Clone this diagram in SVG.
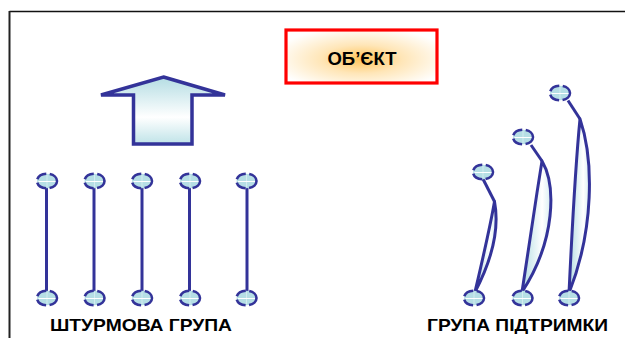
<svg xmlns="http://www.w3.org/2000/svg" width="625" height="338" viewBox="0 0 625 338">
<defs>
<radialGradient id="boxg" cx="0.5" cy="0.55" r="0.6">
<stop offset="0" stop-color="#ffc45a"/>
<stop offset="0.45" stop-color="#ffe6b8"/>
<stop offset="1" stop-color="#ffffff"/>
</radialGradient>
<linearGradient id="arrg" x1="0" y1="0" x2="0" y2="1">
<stop offset="0" stop-color="#b4dde3"/>
<stop offset="0.6" stop-color="#ffffff"/>
<stop offset="1" stop-color="#bfe3e8"/>
</linearGradient>
<linearGradient id="leafg" x1="0" y1="0" x2="1" y2="0">
<stop offset="0" stop-color="#b4dde3"/>
<stop offset="0.7" stop-color="#ffffff"/>
<stop offset="1" stop-color="#d8eef1"/>
</linearGradient>
<g id="head">
<ellipse cx="0" cy="0" rx="10" ry="7.3" class="hd"/>
<line x1="-8.5" y1="0.5" x2="8.5" y2="0.5" class="hl"/>
<line x1="0" y1="-6" x2="0" y2="6" class="hl2"/>
</g>
</defs>
<style>
.hd{fill:#b6dfe5;stroke:#333399;stroke-width:2.6;stroke-dasharray:11 3.5}
.hl{stroke:#ffffff;stroke-width:1}
.hl2{stroke:#ffffff;stroke-width:0.6;opacity:0.7}
.pole{stroke:#333399;stroke-width:3;fill:none}
.leaf{fill:url(#leafg);stroke:#333399;stroke-width:3;stroke-linejoin:round}
.lbl{font-family:"Liberation Sans",Arial,sans-serif;font-weight:bold;fill:#000}
</style>
<g id="frame">
<line x1="9.5" y1="11.5" x2="625" y2="11.5" stroke="#111" stroke-width="1.6"/>
<line x1="9.5" y1="11" x2="9.5" y2="338" stroke="#222" stroke-width="2"/>
</g>
<g id="object">
<rect x="286" y="30" width="151" height="53" fill="url(#boxg)" stroke="#ff0000" stroke-width="3.2"/>
<text x="362" y="65" text-anchor="middle" class="lbl" font-size="18.5">ОБ’ЄКТ</text>
</g>
<g id="arrow">
<path d="M163.5,77 L225,95 L192,95 L192,144 L133.5,144 L133.5,95 L101,95 Z" fill="url(#arrg)" stroke="#333399" stroke-width="3.5" stroke-linejoin="miter"/>
</g>
<g id="connectors">
<line x1="46.5" y1="188" x2="46.5" y2="292" class="pole"/>
<line x1="94" y1="188" x2="94" y2="292" class="pole"/>
<line x1="142" y1="188" x2="142" y2="292" class="pole"/>
<line x1="189.5" y1="188" x2="189.5" y2="292" class="pole"/>
<line x1="247" y1="188" x2="247" y2="292" class="pole"/>
<path d="M483,179 L494.5,201.5" class="pole"/>
<path d="M531,145 L542,161" class="pole"/>
<path d="M568,100.5 L580,119" class="pole"/>
</g>
<g id="assault1"><use href="#head" x="47" y="181"/><use href="#head" x="47" y="298"/></g>
<g id="assault2"><use href="#head" x="94.5" y="181"/><use href="#head" x="94.5" y="298"/></g>
<g id="assault3"><use href="#head" x="142" y="181"/><use href="#head" x="142" y="298"/></g>
<g id="assault4"><use href="#head" x="190" y="181"/><use href="#head" x="190" y="298"/></g>
<g id="assault5"><use href="#head" x="246.5" y="181"/><use href="#head" x="246.5" y="298"/></g>
<g id="support1">
<path d="M494.5,201.5 C498,220 497,250 475,292 C482,262 490,228 494.5,201.5 Z" class="leaf"/>
<use href="#head" x="483" y="172"/><use href="#head" x="474" y="298"/>
</g>
<g id="support2">
<path d="M542,161 C556,185 556,240 522,292 C528,250 535,205 542,161 Z" class="leaf"/>
<use href="#head" x="523" y="137"/><use href="#head" x="522.5" y="298"/>
</g>
<g id="support3">
<path d="M580,119 C594,160 594,230 569,293 C572,230 575,170 580,119 Z" class="leaf"/>
<use href="#head" x="560" y="93"/><use href="#head" x="569" y="298"/>
</g>
<g id="labels">
<text x="50" y="331" class="lbl" font-size="17" textLength="182" lengthAdjust="spacingAndGlyphs">ШТУРМОВА ГРУПА</text>
<text x="427" y="330.5" class="lbl" font-size="17" textLength="181" lengthAdjust="spacingAndGlyphs">ГРУПА ПІДТРИМКИ</text>
</g>
</svg>
